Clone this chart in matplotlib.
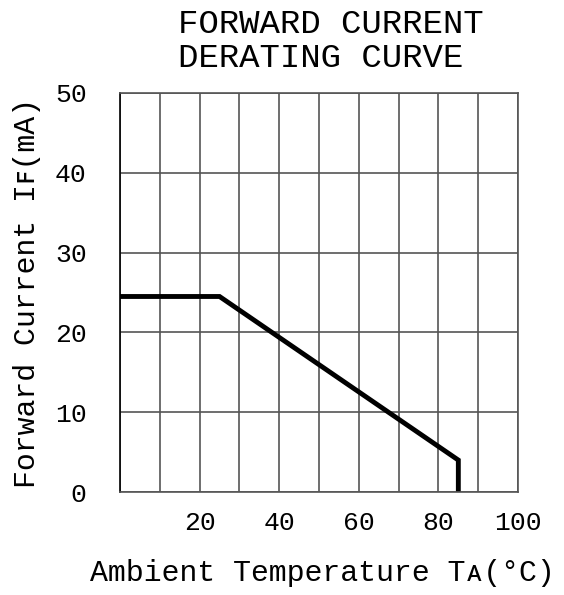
import matplotlib
matplotlib.use("Agg")
import matplotlib.pyplot as plt

# derating curve
temp_c = [0, 25, 85, 85]
current_ma = [24.5, 24.5, 4, 0]

x_ticks = [20, 40, 60, 80, 100]
y_ticks = [0, 10, 20, 30, 40, 50]

plt.rcParams['font.family'] = ['Liberation Mono', 'DejaVu Sans Mono', 'DejaVu Sans']

fig = plt.figure(figsize=(5.64, 5.95), dpi=100)
ax = fig.add_axes([0.2128, 0.1731, 0.7057, 0.6706])

ax.plot(temp_c, current_ma, color='black', lw=3.5, solid_joinstyle='miter')

ax.set_xlim(0, 100)
ax.set_ylim(0, 50)
ax.set_xticks(range(0, 101, 10))
ax.set_yticks(y_ticks)
ax.grid(True, color='#555555', lw=1.2)
ax.set_xticklabels(['' if v not in x_ticks else str(v) for v in range(0, 101, 10)])
ax.tick_params(length=0, labelsize=19, pad=14)
ax.tick_params(axis='y', pad=24)
for s in ax.spines.values():
    s.set_color('#555555')
    s.set_linewidth(1.2)
ax.spines['left'].set_color('black')

fig.text(0.3156, 0.958, "FORWARD CURRENT", ha='left', va='center', fontsize=24.5)
fig.text(0.3156, 0.9025, "DERATING CURVE", ha='left', va='center', fontsize=24.5)
fig.text(0.571, 0.037, "Ambient Temperature T\u1d00(\u00b0C)", ha='center', va='center', fontsize=21.5)
fig.text(0.047, 0.508, "Forward Current I\ua730(mA)", ha='center', va='center', fontsize=21.5,
         rotation=90)

fig.savefig("out.png", dpi=100)
